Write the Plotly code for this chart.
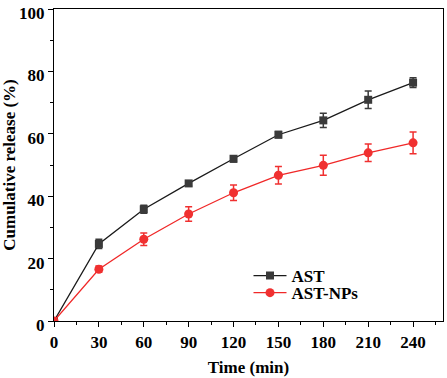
import plotly.graph_objects as go

time_min = [0, 30, 60, 90, 120, 150, 180, 210, 240]
ast = [0, 24.7, 35.8, 44.1, 52.0, 59.7, 64.3, 70.9, 76.4]
ast_err = [0, 1.5, 1.3, 0.8, 1.0, 1.0, 2.3, 2.8, 1.6]
ast_np = [0, 16.6, 26.2, 34.3, 41.1, 46.7, 49.9, 53.9, 57.1]
ast_np_err = [0, 1.0, 2.0, 2.3, 2.5, 2.8, 3.2, 2.8, 3.5]

font_family = "Liberation Serif"

fig = go.Figure()
fig.add_trace(go.Scatter(
    x=time_min, y=ast, name="AST", mode="lines+markers", legend="legend",
    line=dict(color="#1a1a1a", width=1.3),
    marker=dict(symbol="square", size=8, color="#3a3a3a"),
    error_y=dict(type="data", array=ast_err, color="#3a3a3a", thickness=1.5, width=3.5),
))
fig.add_trace(go.Scatter(
    x=time_min, y=ast_np, name="AST-NPs", mode="lines+markers", legend="legend2",
    line=dict(color="#f02828", width=1.3),
    marker=dict(symbol="circle", size=9, color="#f03030"),
    error_y=dict(type="data", array=ast_np_err, color="#f03030", thickness=1.5, width=3.5),
))

axis_common = dict(
    showgrid=False, zeroline=False, showline=True, linecolor="black", linewidth=1.3,
    mirror=True, ticks="outside", ticklen=5, tickwidth=1.3, tickcolor="black",
    tickfont=dict(family=font_family, size=17, color="black", weight="bold"),
)
fig.update_xaxes(
    range=[0, 260], tickvals=[0, 30, 60, 90, 120, 150, 180, 210, 240],
    automargin=False,
    minor=dict(ticks="outside", ticklen=3, tickwidth=1.2, tickcolor="black", dtick=15, tick0=0),
    title=dict(text="Time (min)", font=dict(family=font_family, size=17, color="black", weight="bold"), standoff=10),
    **axis_common,
)
fig.update_yaxes(
    range=[0, 100], tickvals=[0, 20, 40, 60, 80, 100],
    automargin=False, ticklabelshift=4,
    minor=dict(ticks="outside", ticklen=3, tickwidth=1.2, tickcolor="black", dtick=10, tick0=0),
    title=dict(text="Cumulative release (%)", font=dict(family=font_family, size=17, color="black", weight="bold"), standoff=8),
    **axis_common,
)
legend_common = dict(x=0.5, xanchor="left", yanchor="top",
                     font=dict(family=font_family, size=17, color="black", weight="bold"),
                     bgcolor="rgba(0,0,0,0)", itemwidth=33)
fig.update_layout(
    width=447, height=378,
    margin=dict(l=54, r=4, t=9, b=57),
    plot_bgcolor="white", paper_bgcolor="white",
    showlegend=True,
    legend=dict(y=0.202, **legend_common),
    legend2=dict(y=0.147, **legend_common),
)
fig.write_html("out.html", config={"displayModeBar": False},
               post_script="document.body.style.margin='0px';")
